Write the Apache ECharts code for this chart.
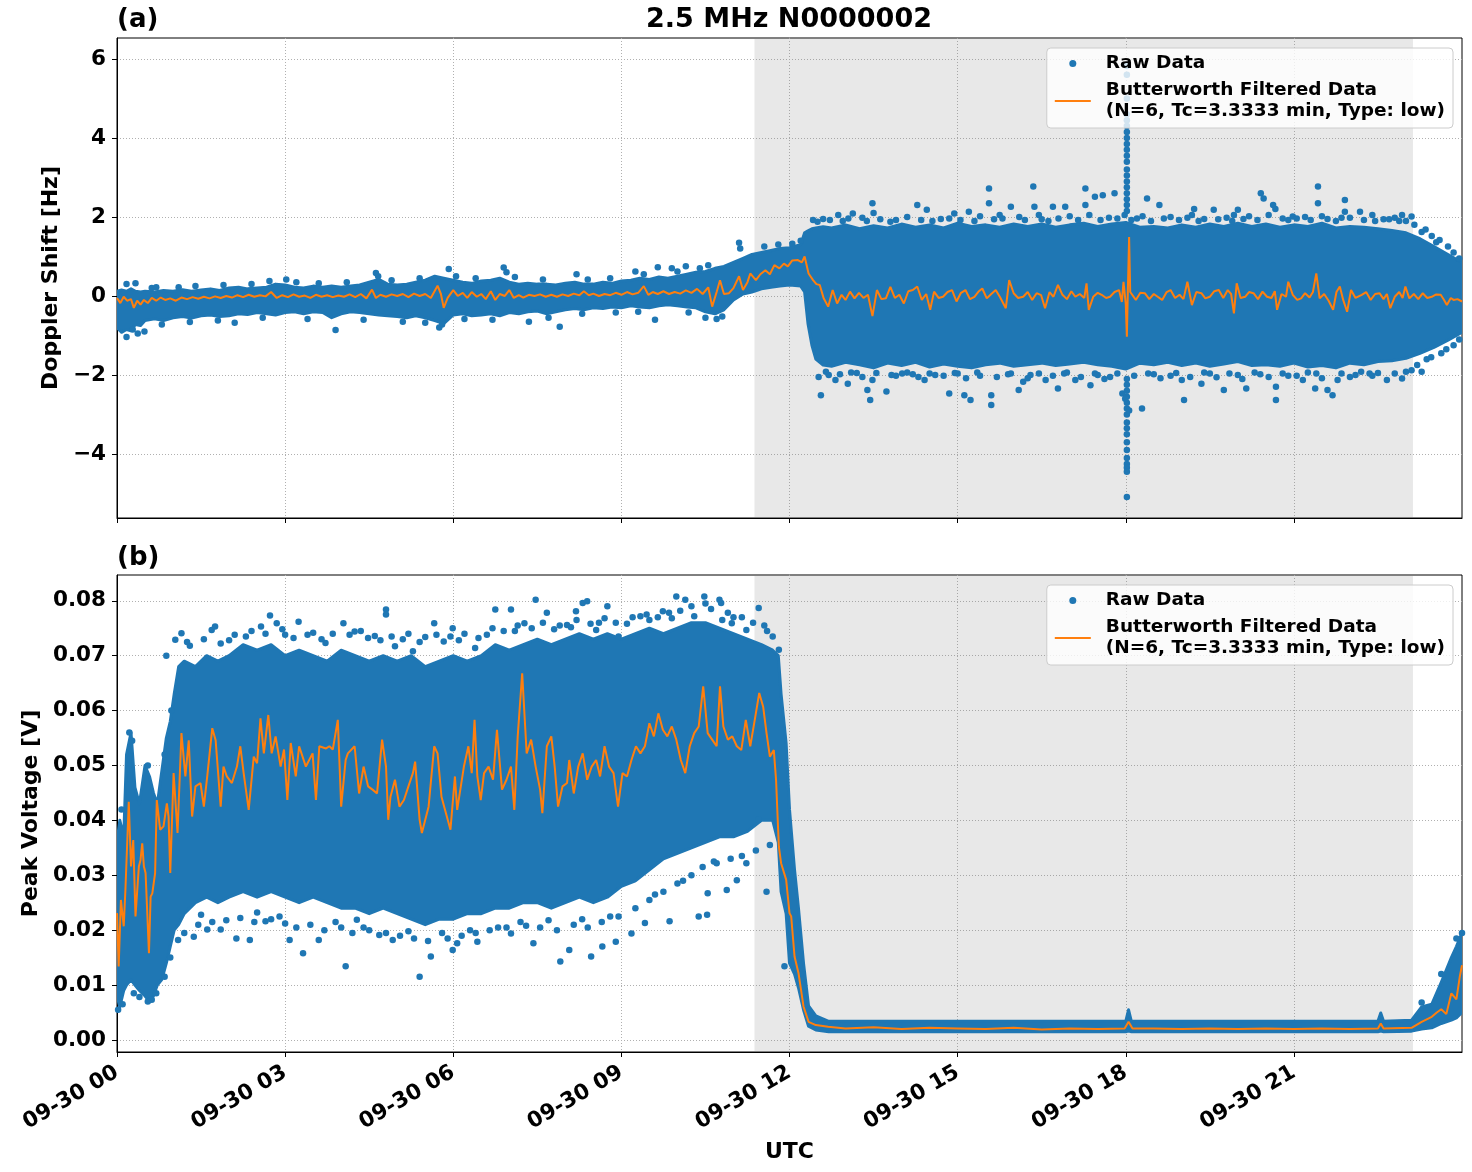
<!DOCTYPE html>
<html>
<head>
<meta charset="utf-8">
<title>2.5 MHz N0000002</title>
<script src="https://cdn.jsdelivr.net/npm/echarts@6/dist/echarts.min.js"></script>
<style>
  html, body { margin: 0; padding: 0; background: #fff; }
  #chart { width: 1472px; height: 1172px; }
</style>
</head>
<body>
<div id="chart"></div>
<script>
// hours of 09-30 UTC on the x axis
const hourTicks = [0, 3, 6, 9, 12, 15, 18, 21];
const shadeStart = 11.375;
const shadeEnd = 23.125;

const dopTicks = [-4, -2, 0, 2, 4, 6];
const voltTicks = [0, 0.01, 0.02, 0.03, 0.04, 0.05, 0.06, 0.07, 0.08];

const rawName = 'Raw Data';
const filtName = 'Butterworth Filtered Data\n(N=6, Tc=3.3333 min, Type: low)';

// (a) Doppler shift: dense part of the raw cloud, [hour, low, high]
const dopBand = [
  [0.00,-0.80,0.12],[0.08,-0.92,0.15],[0.17,-0.85,0.12],[0.25,-0.88,0.18],[0.33,-0.72,0.12],[0.42,-0.75,0.10],
  [0.50,-0.62,0.12],[0.67,-0.58,0.10],[0.83,-0.62,0.14],[1.00,-0.55,0.12],[1.17,-0.52,0.16],[1.33,-0.56,0.12],
  [1.50,-0.50,0.15],[1.67,-0.48,0.18],[1.83,-0.52,0.14],[2.00,-0.50,0.20],[2.17,-0.45,0.22],[2.33,-0.47,0.18],
  [2.50,-0.42,0.20],[2.67,-0.45,0.22],[2.83,-0.48,0.30],[3.00,-0.42,0.28],[3.17,-0.40,0.22],[3.33,-0.45,0.20],
  [3.50,-0.40,0.25],[3.67,-0.42,0.22],[3.83,-0.55,0.25],[4.00,-0.45,0.22],[4.17,-0.40,0.25],[4.33,-0.42,0.28],
  [4.50,-0.45,0.35],[4.67,-0.48,0.42],[4.83,-0.50,0.30],[5.00,-0.52,0.28],[5.17,-0.55,0.30],[5.33,-0.50,0.35],
  [5.50,-0.55,0.40],[5.67,-0.62,0.50],[5.83,-0.70,0.45],[6.00,-0.48,0.40],[6.17,-0.45,0.35],[6.33,-0.50,0.32],
  [6.50,-0.48,0.38],[6.67,-0.45,0.40],[6.83,-0.50,0.45],[7.00,-0.42,0.35],[7.17,-0.45,0.30],[7.33,-0.40,0.32],
  [7.50,-0.38,0.30],[7.67,-0.45,0.30],[7.83,-0.40,0.28],[8.00,-0.35,0.32],[8.17,-0.32,0.35],[8.33,-0.35,0.30],
  [8.50,-0.30,0.30],[8.67,-0.32,0.35],[8.83,-0.28,0.32],[9.00,-0.30,0.38],[9.17,-0.25,0.40],[9.33,-0.28,0.45],
  [9.50,-0.30,0.42],[9.67,-0.25,0.48],[9.83,-0.22,0.45],[10.00,-0.25,0.50],[10.17,-0.28,0.55],[10.33,-0.30,0.60],
  [10.50,-0.40,0.62],[10.67,-0.45,0.70],[10.83,-0.35,0.75],[11.00,-0.10,0.85],[11.17,0.05,0.95],[11.33,0.10,1.05],
  [11.50,0.18,1.10],[11.67,0.22,1.15],[11.83,0.25,1.20],[12.00,0.28,1.22],[12.20,0.25,1.30],[12.27,0.10,1.60],
  [12.33,-0.70,1.65],[12.40,-1.25,1.70],[12.47,-1.60,1.72],[12.60,-1.75,1.75],[12.75,-1.78,1.72],[13.00,-1.68,1.80],
  [13.25,-1.74,1.70],[13.50,-1.82,1.78],[13.75,-1.70,1.72],[14.00,-1.76,1.82],[14.25,-1.68,1.74],[14.50,-1.80,1.80],
  [14.75,-1.72,1.72],[15.00,-1.78,1.84],[15.25,-1.82,1.76],[15.50,-1.74,1.80],[15.75,-1.70,1.74],[16.00,-1.78,1.82],
  [16.25,-1.74,1.76],[16.50,-1.70,1.82],[16.75,-1.76,1.74],[17.00,-1.72,1.80],[17.25,-1.68,1.84],[17.50,-1.74,1.76],
  [17.75,-1.78,1.82],[18.00,-1.85,1.86],[18.25,-1.70,1.74],[18.50,-1.74,1.76],[18.75,-1.68,1.72],[19.00,-1.76,1.80],
  [19.25,-1.70,1.74],[19.50,-1.78,1.82],[19.75,-1.72,1.76],[20.00,-1.66,1.84],[20.25,-1.76,1.76],[20.50,-1.74,1.82],
  [20.75,-1.78,1.74],[21.00,-1.70,1.80],[21.25,-1.80,1.76],[21.50,-1.76,1.84],[21.75,-1.82,1.72],[22.00,-1.70,1.76],
  [22.25,-1.74,1.74],[22.50,-1.66,1.70],[22.75,-1.64,1.66],[23.00,-1.58,1.60],[23.25,-1.45,1.45],[23.50,-1.30,1.25],
  [23.75,-1.12,1.05],[24.00,-0.92,0.85]
];

// (a) scattered raw points outside the dense part, [hour, Hz]
const dopOutliers = [
  [0.17,-1.04],[0.37,-0.95],[0.49,-0.90],[0.28,-0.85],[0.17,0.30],[0.33,0.32],[0.62,0.20],[1.10,0.22],
  [2.10,-0.68],[2.72,0.38],[3.02,0.42],[3.90,-0.86],[4.62,0.58],[4.66,0.50],[5.75,-0.80],[5.80,-0.72],
  [5.92,0.68],[6.05,0.50],[6.90,0.72],[6.95,0.60],[7.35,-0.65],[7.90,-0.78],[8.20,0.55],[9.25,0.62],
  [9.60,-0.60],[9.65,0.73],[9.90,0.70],[10.15,0.75],[10.50,-0.55],[10.55,0.78],[10.80,-0.52],[11.10,1.35],
  [11.12,1.20],[11.55,1.25],[11.80,1.30],[12.05,1.32],[12.20,1.40],
  [0.70,0.22],[1.40,0.25],[1.90,0.28],[2.40,0.30],[3.20,0.35],[3.60,0.32],[4.10,0.35],[4.90,0.40],[5.40,0.45],
  [6.40,0.45],[7.10,0.48],[7.60,0.42],[8.40,0.42],[8.80,0.45],[9.40,0.55],[10.00,0.62],[10.40,0.70],
  [0.80,-0.72],[1.30,-0.66],[1.80,-0.62],[2.60,-0.55],[3.40,-0.58],[4.40,-0.60],[5.10,-0.65],[5.50,-0.68],
  [6.20,-0.58],[6.70,-0.60],[7.70,-0.55],[8.30,-0.45],[8.90,-0.42],[9.30,-0.40],[10.20,-0.42],[10.70,-0.58],
  [12.42,1.92],[12.87,2.05],[13.13,2.09],[13.48,2.35],[13.50,2.10],[14.28,2.30],[14.45,2.18],[14.94,2.09],
  [15.20,2.13],[15.56,2.72],[15.56,2.35],[15.95,2.26],[16.35,2.77],[16.37,2.26],[16.70,2.26],[16.92,2.26],
  [17.28,2.72],[17.28,2.30],[17.45,2.51],[17.59,2.55],[17.80,2.60],[17.98,2.05],[18.38,2.47],[18.60,2.30],
  [19.18,2.05],[19.22,2.20],[19.57,2.18],[19.93,2.05],[20.00,2.18],[20.41,2.60],[20.46,2.47],[20.63,2.30],
  [20.67,2.20],[20.98,2.01],[21.43,2.77],[21.43,2.35],[21.91,2.43],[21.91,2.13],[22.18,2.13],[22.40,2.05],
  [22.93,2.05],[23.10,2.01],[23.28,1.62],[23.46,1.52],[23.54,1.36],[23.85,1.10],[23.95,0.95],
  [12.60,1.95],[13.30,1.98],[13.90,1.92],[14.10,2.00],[14.70,1.95],[15.40,2.02],[15.80,1.96],[16.10,2.00],
  [16.50,1.94],[17.00,2.02],[17.70,1.98],[18.20,1.96],[18.80,2.00],[19.40,1.95],[19.80,1.98],[20.20,2.02],
  [20.80,1.96],[21.20,2.00],[21.60,1.95],[22.00,1.98],[22.60,1.94],[22.80,1.98],[23.00,1.90],
  [12.50,1.88],[12.72,1.92],[12.95,1.90],[13.05,1.96],[13.38,1.90],[13.62,1.94],[13.80,1.88],[14.35,1.92],
  [14.55,1.90],[14.85,1.96],[15.05,1.92],[15.30,1.90],[15.65,1.94],[15.75,2.05],[16.20,1.92],[16.45,2.05],
  [16.62,1.90],[16.80,1.96],[17.15,1.92],[17.35,2.05],[17.55,1.92],[17.85,1.96],[18.10,1.92],[18.30,2.02],
  [18.45,1.90],[18.68,1.96],[18.95,1.92],[19.10,1.98],[19.30,1.90],[19.65,1.94],[19.90,1.90],[20.10,1.95],
  [20.35,1.92],[20.55,2.05],[20.90,1.92],[21.05,1.96],[21.30,1.92],[21.50,2.02],[21.75,1.90],[21.85,1.98],
  [22.25,1.92],[22.45,1.90],[22.70,1.94],[22.88,1.90],[23.15,1.80],[23.35,1.68],[23.60,1.42],[23.75,1.25],
  [12.56,-2.51],[12.82,-2.13],[13.04,-2.22],[13.39,-2.38],[13.44,-2.63],[13.48,-2.13],[13.73,-2.42],[14.01,-1.96],
  [14.41,-2.13],[14.85,-2.47],[15.12,-2.51],[15.23,-2.63],[15.60,-2.51],[15.60,-2.76],[16.09,-2.38],[16.17,-2.17],
  [16.57,-2.13],[16.79,-2.34],[17.10,-2.13],[17.37,-2.26],[17.72,-2.05],[17.94,-2.47],[18.29,-2.85],[19.00,-2.13],
  [19.04,-2.63],[19.35,-2.22],[19.75,-2.38],[20.15,-2.34],[20.68,-2.63],[20.68,-2.30],[21.16,-2.13],[21.38,-2.34],
  [21.60,-2.38],[21.69,-2.51],[21.78,-2.13],[22.35,-1.96],[22.66,-2.13],[22.93,-2.09],[23.28,-1.92],[23.37,-1.60],
  [23.63,-1.45],[23.85,-1.25],
  [12.70,-2.00],[13.20,-1.95],[13.90,-2.02],[14.20,-1.98],[14.60,-2.00],[15.00,-1.96],[15.40,-2.02],[15.90,-1.98],
  [16.30,-2.00],[16.90,-1.96],[17.50,-2.00],[18.50,-1.98],[18.80,-2.02],[19.50,-1.96],[20.00,-2.00],[20.40,-1.98],
  [20.90,-2.02],[21.40,-1.96],[22.10,-2.00],[22.50,-1.95],[23.00,-1.92],
  [12.52,-2.05],[12.65,-1.92],[12.90,-1.98],[13.10,-1.94],[13.30,-2.05],[13.55,-1.95],[13.82,-2.00],[14.10,-1.94],
  [14.30,-2.05],[14.50,-1.96],[14.75,-2.02],[14.95,-1.95],[15.15,-2.08],[15.35,-1.94],[15.70,-2.05],[15.95,-1.96],
  [16.25,-2.08],[16.45,-1.96],[16.70,-2.02],[16.95,-1.94],[17.20,-2.05],[17.45,-1.96],[17.62,-2.10],[17.85,-1.96],
  [18.15,-2.02],[18.40,-1.96],[18.62,-2.08],[18.90,-1.95],[19.15,-2.05],[19.40,-1.94],[19.62,-2.06],[19.85,-1.96],
  [20.08,-2.10],[20.30,-1.94],[20.55,-2.05],[20.80,-1.96],[21.05,-2.02],[21.25,-1.94],[21.50,-2.08],[21.85,-1.96],
  [22.00,-2.05],[22.20,-1.92],[22.40,-2.02],[22.80,-1.96],[23.10,-1.88],[23.20,-1.75],[23.45,-1.55],[23.72,-1.35],
  [23.95,-1.10],
  [18.02,2.15],[18.02,2.30],[18.02,2.45],[18.02,2.60],[18.02,2.75],[18.02,2.90],[18.02,3.05],[18.02,3.20],
  [18.02,3.40],[18.02,3.55],[18.02,3.70],[18.02,3.85],[18.02,4.00],[18.02,4.15],[18.02,4.30],[18.02,4.45],
  [18.02,4.60],[18.02,5.00],[18.02,5.60],[18.02,5.82],
  [18.02,-2.10],[18.02,-2.25],[18.02,-2.40],[18.02,-2.55],[18.02,-2.70],[18.02,-2.85],[18.02,-3.00],[18.02,-3.20],
  [18.02,-3.35],[18.02,-3.50],[18.02,-3.70],[18.02,-3.90],[18.02,-4.10],[18.02,-4.25],[18.02,-4.35],[18.02,-4.45],
  [18.02,-5.09],[17.99,-2.60],[18.06,-2.90]
];

// (a) Butterworth filtered Doppler, [hour, Hz]
const dopFiltered = [
  [0.00,-0.05],[0.06,-0.18],[0.12,-0.02],[0.18,-0.12],[0.25,-0.08],[0.30,-0.30],[0.36,-0.12],[0.42,-0.22],
  [0.48,-0.10],[0.55,-0.18],[0.62,-0.05],[0.70,-0.12],[0.78,-0.04],[0.86,-0.10],[0.95,-0.06],[1.05,-0.12],
  [1.15,-0.04],[1.25,-0.08],[1.35,-0.03],[1.45,-0.07],[1.55,-0.02],[1.65,-0.06],[1.75,-0.01],[1.85,-0.05],
  [1.95,0.00],[2.05,-0.04],[2.15,0.02],[2.25,-0.03],[2.35,0.03],[2.45,-0.02],[2.55,0.02],[2.65,-0.01],
  [2.75,0.10],[2.85,-0.05],[2.95,0.02],[3.05,-0.03],[3.15,0.04],[3.25,-0.02],[3.35,0.01],[3.45,-0.05],
  [3.55,0.03],[3.65,-0.02],[3.75,0.02],[3.85,-0.03],[3.95,0.01],[4.05,-0.02],[4.15,0.04],[4.25,-0.03],
  [4.35,0.05],[4.45,-0.06],[4.55,0.16],[4.62,-0.05],[4.70,0.03],[4.80,-0.02],[4.90,0.04],[5.00,0.00],
  [5.10,0.05],[5.20,-0.03],[5.30,0.06],[5.40,0.00],[5.50,0.05],[5.60,-0.05],[5.72,0.26],[5.78,0.05],
  [5.83,-0.30],[5.90,-0.05],[6.00,0.15],[6.08,0.00],[6.17,0.08],[6.25,-0.05],[6.33,0.10],[6.42,-0.02],
  [6.50,0.05],[6.58,-0.08],[6.67,0.12],[6.75,-0.10],[6.83,0.05],[6.92,0.00],[7.00,0.15],[7.08,-0.05],
  [7.17,0.02],[7.25,-0.04],[7.35,0.03],[7.45,0.00],[7.55,0.04],[7.65,-0.02],[7.75,0.03],[7.85,-0.02],
  [7.95,0.04],[8.05,0.00],[8.15,0.06],[8.25,0.02],[8.33,0.12],[8.42,0.02],[8.50,0.06],[8.60,0.00],
  [8.70,0.05],[8.80,0.02],[8.90,0.08],[9.00,0.03],[9.10,0.10],[9.20,0.04],[9.30,0.08],[9.40,0.25],
  [9.48,0.03],[9.56,0.10],[9.65,0.05],[9.75,0.12],[9.85,0.05],[9.95,0.10],[10.05,0.06],[10.15,0.14],
  [10.25,0.08],[10.35,0.18],[10.45,0.05],[10.55,0.22],[10.62,-0.27],[10.70,0.10],[10.76,0.40],[10.83,0.05],
  [10.92,0.07],[11.00,0.20],[11.10,0.50],[11.17,0.15],[11.25,0.35],[11.30,0.57],[11.40,0.40],[11.48,0.55],
  [11.57,0.65],[11.65,0.55],[11.73,0.78],[11.82,0.70],[11.90,0.82],[11.97,0.75],[12.05,0.90],[12.15,0.91],
  [12.22,0.85],[12.27,1.00],[12.34,0.57],[12.42,0.40],[12.48,0.30],[12.54,0.28],[12.61,-0.06],[12.69,-0.27],
  [12.77,0.15],[12.85,-0.19],[12.93,0.03],[13.00,-0.10],[13.08,0.11],[13.16,-0.06],[13.24,0.08],[13.32,-0.05],
  [13.40,0.03],[13.48,-0.51],[13.56,0.15],[13.64,-0.08],[13.72,-0.06],[13.80,0.23],[13.88,-0.05],[13.96,0.03],
  [14.04,-0.19],[14.12,0.12],[14.20,0.15],[14.28,0.24],[14.36,-0.10],[14.44,0.05],[14.51,-0.35],[14.58,0.11],
  [14.66,-0.05],[14.74,-0.02],[14.82,0.10],[14.90,0.15],[14.98,-0.14],[15.06,0.08],[15.14,0.15],[15.22,-0.08],
  [15.30,-0.02],[15.38,0.12],[15.44,0.19],[15.52,-0.06],[15.60,0.05],[15.68,0.15],[15.76,-0.04],[15.86,-0.31],
  [15.92,0.40],[16.00,0.07],[16.08,-0.05],[16.17,-0.02],[16.25,0.10],[16.33,-0.10],[16.41,0.07],[16.49,0.02],
  [16.56,-0.31],[16.64,0.10],[16.71,-0.02],[16.79,0.28],[16.87,0.03],[16.95,-0.08],[17.03,0.12],[17.10,-0.02],
  [17.18,0.05],[17.26,-0.05],[17.30,0.32],[17.34,-0.35],[17.42,-0.02],[17.50,0.08],[17.57,0.03],[17.65,-0.05],
  [17.72,-0.02],[17.80,0.10],[17.88,0.15],[17.93,-0.15],[17.96,0.36],[18.00,-0.20],[18.02,-1.03],[18.04,0.30],
  [18.06,1.49],[18.08,0.10],[18.11,0.15],[18.18,-0.10],[18.26,0.08],[18.34,0.07],[18.42,-0.08],[18.50,0.05],
  [18.57,-0.02],[18.65,-0.10],[18.73,0.10],[18.80,0.15],[18.88,-0.05],[18.96,0.03],[19.03,-0.08],[19.10,0.36],
  [19.18,-0.23],[19.26,0.10],[19.35,0.07],[19.42,-0.06],[19.50,-0.02],[19.58,0.12],[19.66,0.15],[19.74,-0.05],
  [19.82,0.15],[19.88,0.05],[19.93,-0.44],[19.98,0.32],[20.05,-0.05],[20.13,-0.02],[20.20,0.10],[20.28,0.07],
  [20.36,-0.08],[20.44,0.11],[20.52,-0.02],[20.60,-0.05],[20.66,0.12],[20.70,-0.35],[20.78,0.05],[20.86,-0.02],
  [20.90,0.36],[20.98,0.03],[21.06,-0.10],[21.13,-0.06],[21.20,0.07],[21.28,-0.04],[21.34,0.10],[21.40,0.57],
  [21.46,-0.06],[21.54,0.05],[21.62,-0.12],[21.70,-0.35],[21.76,0.10],[21.82,0.24],[21.88,-0.10],[21.95,-0.40],
  [22.02,0.15],[22.10,-0.05],[22.21,0.03],[22.29,0.10],[22.37,-0.10],[22.45,0.05],[22.53,0.07],[22.60,-0.08],
  [22.66,0.05],[22.72,-0.31],[22.80,-0.02],[22.88,0.10],[22.94,-0.05],[22.99,0.24],[23.06,-0.06],[23.14,0.05],
  [23.22,-0.08],[23.30,0.07],[23.38,-0.05],[23.46,-0.02],[23.54,0.04],[23.62,0.03],[23.68,-0.10],[23.73,-0.23],
  [23.80,-0.05],[23.85,-0.10],[23.92,-0.08],[24.00,-0.14]
];

// (b) peak voltage: dense part of the raw cloud, [hour, low, high]
const voltBand = [
  [0.00,0.0080,0.0360],[0.05,0.0060,0.0400],[0.12,0.0090,0.0370],[0.17,0.0100,0.0520],[0.25,0.0110,0.0560],
  [0.32,0.0100,0.0460],[0.40,0.0090,0.0430],[0.50,0.0080,0.0500],[0.58,0.0070,0.0480],[0.65,0.0080,0.0450],
  [0.72,0.0100,0.0430],[0.80,0.0110,0.0490],[0.88,0.0140,0.0550],[0.95,0.0170,0.0580],[1.02,0.0200,0.0630],
  [1.10,0.0210,0.0680],[1.20,0.0230,0.0690],[1.40,0.0250,0.0680],[1.60,0.0260,0.0700],[1.80,0.0250,0.0690],
  [2.00,0.0260,0.0700],[2.25,0.0270,0.0720],[2.50,0.0260,0.0710],[2.75,0.0270,0.0720],[3.00,0.0260,0.0700],
  [3.25,0.0250,0.0710],[3.50,0.0260,0.0700],[3.75,0.0250,0.0690],[4.00,0.0240,0.0710],[4.25,0.0240,0.0700],
  [4.50,0.0230,0.0690],[4.75,0.0240,0.0700],[5.00,0.0230,0.0690],[5.25,0.0220,0.0700],[5.50,0.0210,0.0680],
  [5.75,0.0220,0.0690],[6.00,0.0220,0.0700],[6.25,0.0230,0.0690],[6.50,0.0230,0.0700],[6.75,0.0240,0.0720],
  [7.00,0.0240,0.0710],[7.25,0.0250,0.0720],[7.50,0.0250,0.0730],[7.75,0.0240,0.0720],[8.00,0.0250,0.0730],
  [8.25,0.0260,0.0740],[8.50,0.0250,0.0730],[8.75,0.0260,0.0740],[9.00,0.0280,0.0730],[9.25,0.0290,0.0740],
  [9.50,0.0310,0.0750],[9.75,0.0330,0.0740],[10.00,0.0340,0.0750],[10.25,0.0350,0.0760],[10.50,0.0360,0.0760],
  [10.75,0.0370,0.0750],[11.00,0.0370,0.0740],[11.25,0.0380,0.0730],[11.50,0.0400,0.0720],[11.70,0.0400,0.0710],
  [11.80,0.0360,0.0700],[11.85,0.0270,0.0630],[11.94,0.0230,0.0540],[12.00,0.0140,0.0420],[12.09,0.0120,0.0310],
  [12.16,0.0095,0.0240],[12.25,0.0055,0.0140],[12.34,0.0025,0.0062],[12.47,0.0018,0.0044],[12.70,0.0015,0.0034],
  [18.00,0.0015,0.0034],[18.05,0.0016,0.0055],[18.10,0.0015,0.0034],[22.50,0.0015,0.0034],[22.55,0.0016,0.0049],
  [22.60,0.0015,0.0034],[23.10,0.0016,0.0036],[23.28,0.0020,0.0060],[23.46,0.0022,0.0065],[23.63,0.0030,0.0105],
  [23.81,0.0036,0.0150],[23.90,0.0040,0.0170],[24.00,0.0050,0.0195]
];

// (b) scattered raw points outside the dense part, [hour, V]
const voltOutliers = [
  [0.02,0.0055],[0.40,0.0078],[0.62,0.0073],
  [0.08,0.0420],[0.22,0.0560],[0.27,0.0545],[0.55,0.0500],[0.85,0.0520],[0.97,0.0600],
  [0.10,0.0065],[0.30,0.0085],[0.55,0.0070],[0.70,0.0085],[0.85,0.0115],[0.95,0.0150],
  [0.88,0.0700],[1.04,0.0729],[1.15,0.0741],[1.69,0.0747],[1.75,0.0753],[2.57,0.0753],[2.73,0.0773],[2.85,0.0759],
  [3.24,0.0762],[3.72,0.0723],[4.04,0.0759],[4.24,0.0744],[4.48,0.0732],[4.80,0.0784],[4.80,0.0775],[4.96,0.0717],
  [5.28,0.0708],[5.66,0.0759],[5.83,0.0726],[5.99,0.0750],[6.39,0.0714],[6.75,0.0784],[7.03,0.0784],[7.27,0.0759],
  [7.47,0.0802],[7.67,0.0778],[8.03,0.0756],[8.19,0.0781],[8.31,0.0796],[8.39,0.0799],[8.55,0.0747],[8.75,0.0790],
  [8.95,0.0735],[9.34,0.0772],[9.74,0.0781],[9.98,0.0808],[10.14,0.0802],[10.48,0.0808],[10.50,0.0795],[10.75,0.0802],
  [10.78,0.0796],[10.80,0.0765],[10.97,0.0759],[11.23,0.0747],[11.45,0.0787],[11.81,0.0711],
  [1.30,0.0718],[2.00,0.0728],[2.30,0.0735],[3.00,0.0738],[3.50,0.0742],[4.60,0.0736],[5.10,0.0730],[5.50,0.0734],
  [6.10,0.0728],[6.60,0.0738],[7.10,0.0745],[7.80,0.0748],[8.10,0.0752],[8.60,0.0760],[9.10,0.0758],[9.50,0.0765],
  [9.90,0.0768],[10.30,0.0772],[11.00,0.0770],[11.60,0.0745],
  [1.25,0.0725],[1.55,0.0730],[1.85,0.0722],[2.10,0.0738],[2.40,0.0745],[2.65,0.0740],[2.95,0.0748],[3.15,0.0732],
  [3.40,0.0738],[3.65,0.0730],[3.85,0.0740],[4.15,0.0738],[4.35,0.0745],[4.70,0.0728],[4.90,0.0735],[5.20,0.0740],
  [5.40,0.0725],[5.70,0.0738],[5.95,0.0735],[6.20,0.0740],[6.45,0.0732],[6.70,0.0750],[6.90,0.0745],[7.15,0.0755],
  [7.40,0.0750],[7.60,0.0760],[7.90,0.0755],[8.20,0.0765],[8.45,0.0758],[8.70,0.0768],[8.90,0.0760],[9.20,0.0770],
  [9.45,0.0775],[9.65,0.0770],[9.85,0.0778],[10.05,0.0782],[10.25,0.0790],[10.60,0.0785],[10.90,0.0778],[11.15,0.0770],
  [11.35,0.0760],[11.55,0.0755],[11.70,0.0735],
  [1.09,0.0182],[1.37,0.0188],[1.61,0.0201],[1.85,0.0201],[2.13,0.0185],[2.37,0.0182],[2.65,0.0216],[3.08,0.0182],
  [3.32,0.0158],[3.60,0.0182],[4.08,0.0134],[4.28,0.0219],[4.68,0.0191],[4.92,0.0182],[5.40,0.0115],[5.60,0.0152],
  [5.99,0.0164],[6.07,0.0176],[6.43,0.0179],[7.03,0.0194],[7.43,0.0176],[7.91,0.0143],[8.07,0.0164],[8.46,0.0152],
  [8.66,0.0170],[8.90,0.0179],[9.18,0.0194],[9.42,0.0213],[9.86,0.0216],[10.38,0.0225],[10.54,0.0267],[10.53,0.0228],
  [10.70,0.0322],[10.88,0.0273],[11.06,0.0291],[11.23,0.0322],[11.45,0.0401],[11.59,0.0270],[11.91,0.0134],
  [1.50,0.0228],[2.50,0.0232],[2.90,0.0225],[3.90,0.0215],[4.40,0.0205],[5.20,0.0198],[5.80,0.0195],[6.30,0.0200],
  [6.80,0.0205],[7.20,0.0215],[7.70,0.0218],[8.30,0.0220],[8.80,0.0225],[9.60,0.0265],[10.10,0.0290],
  [1.20,0.0195],[1.45,0.0210],[1.70,0.0215],[1.95,0.0218],[2.20,0.0222],[2.45,0.0215],[2.75,0.0220],[3.00,0.0212],
  [3.20,0.0205],[3.45,0.0210],[3.70,0.0200],[4.00,0.0205],[4.20,0.0195],[4.50,0.0200],[4.80,0.0195],[5.05,0.0190],
  [5.30,0.0185],[5.55,0.0180],[5.90,0.0185],[6.15,0.0190],[6.40,0.0195],[6.65,0.0200],[6.95,0.0205],[7.30,0.0208],
  [7.55,0.0205],[7.85,0.0200],[8.15,0.0210],[8.40,0.0205],[8.65,0.0215],[8.95,0.0225],[9.25,0.0240],[9.50,0.0255],
  [9.75,0.0270],[10.00,0.0285],[10.25,0.0300],[10.45,0.0315],[10.65,0.0325],[10.95,0.0330],[11.15,0.0335],
  [11.40,0.0345],[11.65,0.0355],
  [23.28,0.0068],[23.63,0.0120],[23.90,0.0185],[24.00,0.0195]
];

// (b) Butterworth filtered peak voltage, [hour, V]
const voltFiltered = [
  [0.00,0.0231],[0.03,0.0134],[0.07,0.0255],[0.12,0.0207],[0.15,0.0273],[0.21,0.0434],[0.25,0.0316],[0.29,0.0364],
  [0.33,0.0225],[0.36,0.0225],[0.39,0.0316],[0.42,0.0328],[0.45,0.0358],[0.48,0.0316],[0.51,0.0304],[0.57,0.0158],
  [0.60,0.0261],[0.63,0.0267],[0.68,0.0304],[0.71,0.0437],[0.77,0.0383],[0.83,0.0389],[0.89,0.0431],[0.92,0.0407],
  [0.95,0.0304],[1.01,0.0486],[1.08,0.0377],[1.15,0.0559],[1.22,0.0480],[1.28,0.0546],[1.34,0.0407],[1.40,0.0462],
  [1.49,0.0468],[1.55,0.0425],[1.61,0.0480],[1.70,0.0568],[1.76,0.0546],[1.85,0.0425],[1.90,0.0498],[1.96,0.0480],
  [2.05,0.0468],[2.14,0.0498],[2.20,0.0535],[2.26,0.0486],[2.35,0.0419],[2.44,0.0516],[2.50,0.0504],[2.56,0.0586],
  [2.62,0.0522],[2.70,0.0592],[2.76,0.0522],[2.83,0.0553],[2.92,0.0498],[2.98,0.0529],[3.04,0.0437],[3.10,0.0541],
  [3.19,0.0480],[3.25,0.0535],[3.37,0.0498],[3.49,0.0522],[3.55,0.0437],[3.61,0.0535],[3.73,0.0531],[3.79,0.0535],
  [3.85,0.0529],[3.94,0.0583],[4.00,0.0425],[4.08,0.0510],[4.12,0.0522],[4.24,0.0535],[4.32,0.0449],[4.40,0.0498],
  [4.48,0.0462],[4.56,0.0456],[4.64,0.0449],[4.73,0.0547],[4.80,0.0498],[4.84,0.0401],[4.88,0.0443],[4.96,0.0474],
  [5.04,0.0425],[5.12,0.0437],[5.20,0.0462],[5.28,0.0486],[5.32,0.0507],[5.40,0.0401],[5.44,0.0377],[5.56,0.0425],
  [5.66,0.0535],[5.72,0.0522],[5.79,0.0443],[5.87,0.0413],[5.95,0.0383],[6.03,0.0480],[6.07,0.0419],[6.19,0.0498],
  [6.27,0.0535],[6.33,0.0486],[6.38,0.0583],[6.43,0.0480],[6.49,0.0437],[6.55,0.0486],[6.63,0.0498],[6.71,0.0474],
  [6.78,0.0565],[6.87,0.0456],[6.95,0.0474],[7.03,0.0498],[7.09,0.0419],[7.15,0.0553],[7.23,0.0668],[7.31,0.0522],
  [7.39,0.0547],[7.47,0.0498],[7.55,0.0456],[7.59,0.0413],[7.67,0.0535],[7.75,0.0553],[7.81,0.0498],[7.87,0.0425],
  [7.95,0.0462],[8.03,0.0468],[8.07,0.0510],[8.15,0.0449],[8.23,0.0498],[8.31,0.0522],[8.39,0.0474],[8.47,0.0498],
  [8.55,0.0510],[8.62,0.0480],[8.70,0.0535],[8.78,0.0498],[8.86,0.0486],[8.94,0.0425],[9.02,0.0486],[9.10,0.0480],
  [9.18,0.0510],[9.26,0.0535],[9.34,0.0522],[9.42,0.0535],[9.50,0.0577],[9.58,0.0553],[9.66,0.0595],[9.74,0.0565],
  [9.82,0.0553],[9.90,0.0571],[9.98,0.0547],[10.06,0.0510],[10.14,0.0486],[10.22,0.0535],[10.30,0.0559],[10.38,0.0571],
  [10.46,0.0644],[10.54,0.0559],[10.62,0.0547],[10.70,0.0535],[10.76,0.0644],[10.82,0.0571],[10.90,0.0547],[10.98,0.0553],
  [11.06,0.0535],[11.14,0.0528],[11.22,0.0583],[11.30,0.0535],[11.38,0.0583],[11.46,0.0632],[11.53,0.0607],[11.59,0.0559],
  [11.65,0.0516],[11.72,0.0528],[11.76,0.0474],[11.81,0.0352],[11.85,0.0322],[11.94,0.0292],[12.00,0.0231],[12.03,0.0225],
  [12.09,0.0152],[12.16,0.0122],[12.25,0.0061],[12.34,0.0033],[12.47,0.0027],[12.69,0.0024],[13.00,0.0021],[13.50,0.0023],
  [14.00,0.0020],[14.50,0.0022],[15.00,0.0021],[15.50,0.0020],[16.00,0.0022],[16.50,0.0019],[17.00,0.0021],[17.50,0.0020],
  [17.98,0.0021],[18.05,0.0033],[18.12,0.0021],[18.50,0.0021],[19.00,0.0020],[19.50,0.0021],[20.00,0.0020],[20.50,0.0021],
  [21.00,0.0020],[21.50,0.0021],[22.00,0.0020],[22.50,0.0021],[22.55,0.0030],[22.60,0.0021],[23.10,0.0022],[23.28,0.0033],
  [23.46,0.0042],[23.55,0.0050],[23.63,0.0056],[23.72,0.0047],[23.81,0.0085],[23.90,0.0074],[23.96,0.0115],[24.00,0.0136]
];

const FONT = 'DejaVu Sans';
const BLUE = '#1f77b4';
const ORANGE = '#ff7f0e';

var chart = echarts.init(document.getElementById('chart'));

function hourLabel(v) {
  if (v >= 24) return '';
  return '09-30 ' + (v < 10 ? '0' + v : v);
}

function dopLabel(v) {
  return v < 0 ? '\u2212' + (-v) : String(v);
}

function xAxisFor(gridIndex, showLabels) {
  return {
    gridIndex: gridIndex, type: 'value', min: 0, max: 24, interval: 3,
    name: showLabels ? 'UTC' : '', nameLocation: 'middle', nameGap: 89,
    nameTextStyle: { fontFamily: FONT, fontSize: 22, fontWeight: 'bold', color: '#000' },
    axisLine: { show: true, onZero: false, lineStyle: { color: '#000', width: 1 } },
    axisTick: { show: true, length: 5, lineStyle: { color: '#000' }, customValues: hourTicks },
    axisLabel: {
      show: showLabels, rotate: 30, margin: 19, customValues: hourTicks,
      fontFamily: FONT, fontSize: 21.5, fontWeight: 'bold', color: '#000',
      formatter: hourLabel
    },
    splitLine: { show: true, lineStyle: { color: '#b0b0b0', width: 1, type: [1, 2] } }
  };
}

function yAxisFor(gridIndex, min, max, split, ticks, fmt, name, gap) {
  return {
    gridIndex: gridIndex, type: 'value', min: min, max: max, splitNumber: split,
    name: name, nameLocation: 'middle', nameGap: gap,
    nameTextStyle: { fontFamily: FONT, fontSize: 22, fontWeight: 'bold', color: '#000' },
    axisLine: { show: true, onZero: false, lineStyle: { color: '#000', width: 1 } },
    axisTick: { show: true, length: 5, lineStyle: { color: '#000' }, customValues: ticks },
    axisLabel: {
      margin: 11, customValues: ticks, formatter: fmt,
      fontFamily: FONT, fontSize: 21.5, fontWeight: 'bold', color: '#000'
    },
    splitLine: { show: true, lineStyle: { color: '#b0b0b0', width: 1, type: [1, 2] } }
  };
}

function legendFor(top) {
  return {
    orient: 'vertical', right: 19, top: top,
    backgroundColor: 'rgba(255,255,255,0.8)', borderColor: '#cccccc', borderWidth: 1, borderRadius: 4,
    padding: [5, 8, 6, 8], itemGap: 6, itemWidth: 36, itemHeight: 7,
    textStyle: { fontFamily: FONT, fontSize: 18.5, fontWeight: 'bold', color: '#000', lineHeight: 21, padding: [0, 0, 0, 10] },
    data: [
      { name: rawName, icon: 'circle', itemStyle: { color: BLUE } },
      { name: filtName, icon: 'path://M0,0L36,0L36,2L0,2Z', itemStyle: { color: ORANGE } }
    ]
  };
}

// the dense raw cloud as one filled outline
function bandSeries(band, idx) {
  return {
    name: rawName, type: 'custom', xAxisIndex: idx, yAxisIndex: idx, z: 2, clip: true, silent: true,
    itemStyle: { color: BLUE },
    data: band,
    renderItem: function (params, api) {
      if (params.dataIndex !== 0) return null;
      var upper = band.map(function (r) { return api.coord([r[0], r[2]]); });
      var lower = band.slice().reverse().map(function (r) { return api.coord([r[0], r[1]]); });
      return {
        type: 'polygon',
        shape: { points: upper.concat(lower) },
        style: { fill: BLUE, stroke: BLUE, lineWidth: 3, lineJoin: 'round' }
      };
    }
  };
}

function shadeSeries(idx) {
  return {
    type: 'line', xAxisIndex: idx, yAxisIndex: idx, data: [], silent: true, z: 1,
    markArea: {
      silent: true,
      itemStyle: { color: 'rgba(128,128,128,0.18)' },
      data: [[{ xAxis: shadeStart }, { xAxis: shadeEnd }]]
    }
  };
}

function pointSeries(points, idx) {
  return {
    name: rawName, type: 'scatter', xAxisIndex: idx, yAxisIndex: idx, z: 3,
    symbolSize: 6.5, itemStyle: { color: BLUE, opacity: 1 }, data: points
  };
}

function filtSeries(points, idx) {
  return {
    name: filtName, type: 'line', xAxisIndex: idx, yAxisIndex: idx, z: 5,
    symbol: 'none', itemStyle: { color: ORANGE },
    lineStyle: { color: ORANGE, width: 2 }, data: points
  };
}

var option = {
  animation: false,
  backgroundColor: '#ffffff',
  title: [
    { text: '2.5 MHz N0000002', left: 789, textAlign: 'center', top: 5, padding: 0,
      textStyle: { fontFamily: FONT, fontSize: 27, fontWeight: 'bold', color: '#000', lineHeight: 30 } },
    { text: '(a)', left: 117, top: 5, padding: 0,
      textStyle: { fontFamily: FONT, fontSize: 26, fontWeight: 'bold', color: '#000', lineHeight: 30 } },
    { text: '(b)', left: 117, top: 543, padding: 0,
      textStyle: { fontFamily: FONT, fontSize: 26, fontWeight: 'bold', color: '#000', lineHeight: 30 } }
  ],
  legend: [legendFor(48), legendFor(585)],
  grid: [
    { left: 117, top: 38, width: 1345, height: 480, show: true, borderColor: '#000', borderWidth: 1,
      backgroundColor: 'transparent', containLabel: false, outerBoundsMode: 'none' },
    { left: 117, top: 575, width: 1345, height: 477, show: true, borderColor: '#000', borderWidth: 1,
      backgroundColor: 'transparent', containLabel: false, outerBoundsMode: 'none' }
  ],
  xAxis: [xAxisFor(0, false), xAxisFor(1, true)],
  yAxis: [
    yAxisFor(0, -5.62, 6.53, 6, dopTicks, dopLabel, 'Doppler Shift [Hz]', 51),
    yAxisFor(1, -0.0022, 0.0847, 9, voltTicks, function (v) { return v.toFixed(2); }, 'Peak Voltage [V]', 73)
  ],
  series: [
    shadeSeries(0), bandSeries(dopBand, 0), pointSeries(dopOutliers, 0), filtSeries(dopFiltered, 0),
    shadeSeries(1), bandSeries(voltBand, 1), pointSeries(voltOutliers, 1), filtSeries(voltFiltered, 1)
  ]
};

chart.setOption(option);
</script>
</body>
</html>
